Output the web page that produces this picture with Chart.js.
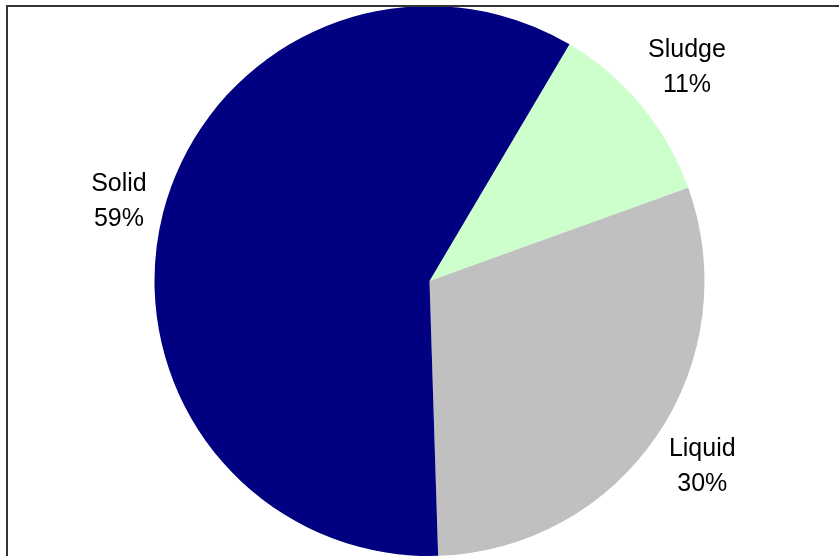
<!DOCTYPE html>
<html>
<head>
<meta charset="utf-8">
<script src="https://cdn.jsdelivr.net/npm/chart.js@4/dist/chart.umd.min.js"></script>
<style>
  html, body { margin: 0; padding: 0; background: #fff; }
  canvas { display: block; }
</style>
</head>
<body>
<canvas id="pie" width="839" height="556"></canvas>
<script>
// Доли отходов по агрегатному состоянию, %
const categories = ['Sludge', 'Liquid', 'Solid'];
const shares = [11, 30, 59];
const sliceColors = ['#CCFFCC', '#C0C0C0', '#000080'];

// Подписи снаружи круга: название и процент в две строки
const outsideLabels = {
    id: 'outsideLabels',
    afterDraw(chart) {
        const ctx = chart.ctx;
        const arcs = chart.getDatasetMeta(0).data;
        ctx.save();
        ctx.font = '25px "Liberation Sans", Arial, sans-serif';
        ctx.fillStyle = '#000';
        ctx.textAlign = 'center';
        ctx.textBaseline = 'middle';
        const lineGap = 35;
        arcs.forEach((arc, i) => {
            const p = arc.getProps(['x', 'y', 'startAngle', 'endAngle', 'outerRadius'], true);
            const mid = (p.startAngle + p.endAngle) / 2;
            const lines = [categories[i], shares[i] + '%'];
            const hw = Math.max(...lines.map(t => ctx.measureText(t).width)) / 2;
            const hh = 27;
            const cos = Math.cos(mid), sin = Math.sin(mid);
            const dist = p.outerRadius + 12 + Math.abs(hw * cos) + Math.abs(hh * sin);
            const cx = p.x + cos * dist;
            const cy = p.y + sin * dist;
            ctx.fillText(lines[0], cx, cy - lineGap / 2);
            ctx.fillText(lines[1], cx, cy + lineGap / 2);
        });
        // рамка области диаграммы
        ctx.strokeStyle = '#333';
        ctx.lineWidth = 2;
        ctx.strokeRect(7, 6, 900, 600);
        ctx.restore();
    }
};

new Chart(document.getElementById('pie'), {
    type: 'pie',
    data: {
        labels: categories,
        datasets: [{
            data: shares,
            backgroundColor: sliceColors,
            borderWidth: 0
        }]
    },
    options: {
        responsive: false,
        animation: false,
        rotation: 30.6,
        layout: { padding: { top: 6, bottom: 0, left: 100, right: 80 } },
        plugins: {
            legend: { display: false },
            tooltip: { enabled: false }
        }
    },
    plugins: [outsideLabels]
});
</script>
</body>
</html>
